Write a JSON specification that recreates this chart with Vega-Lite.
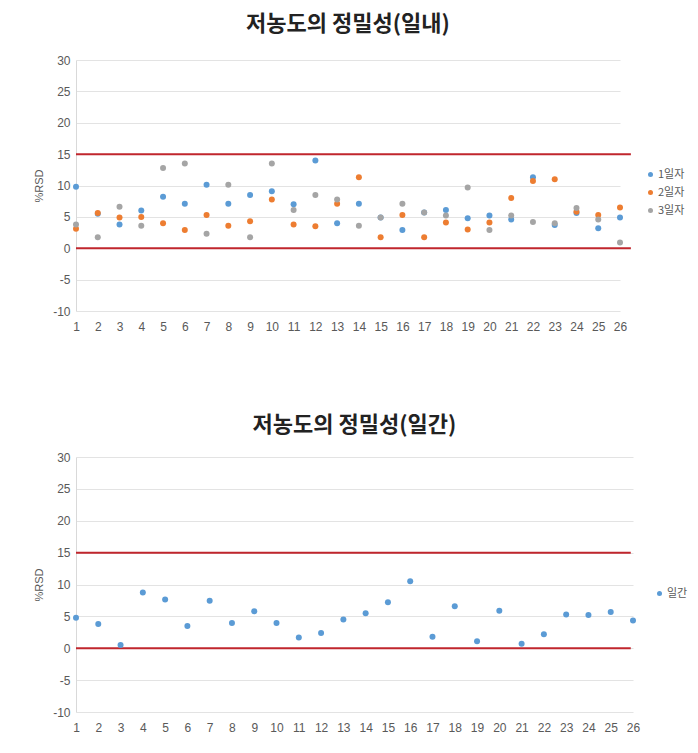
{
  "$schema": "https://vega.github.io/schema/vega-lite/v6.json",
  "background": "white",
  "padding": {"left": 33, "top": 13, "right": 5, "bottom": 5},
  "spacing": 82,
  "config": {
    "view": {"stroke": null},
    "font": "Noto Sans CJK KR",
    "title": {"fontSize": 22, "fontWeight": "bold", "color": "#222222", "font": "Noto Sans CJK KR", "offset": 18},
    "axis": {"labelFont": "Liberation Sans", "labelFontSize": 12, "labelColor": "#595959", "titleFont": "Liberation Sans", "titleFontSize": 11, "titleFontWeight": "normal", "titleColor": "#595959", "ticks": false, "domainColor": "#d9d9d9", "gridColor": "#e3e3e3", "labelOverlap": false},
    "legend": {"labelFont": "Noto Sans CJK KR", "labelFontSize": 11, "labelColor": "#595959", "symbolSize": 25, "symbolType": "circle", "rowPadding": 6, "labelOffset": 2}
  },
  "datasets": {
    "daily": [
      {"x":1,"s":"1일자","v":9.8},{"x":2,"s":"1일자","v":5.5},{"x":3,"s":"1일자","v":3.8},{"x":4,"s":"1일자","v":6.0},{"x":5,"s":"1일자","v":8.2},{"x":6,"s":"1일자","v":7.1},{"x":7,"s":"1일자","v":10.1},{"x":8,"s":"1일자","v":7.1},{"x":9,"s":"1일자","v":8.5},{"x":10,"s":"1일자","v":9.1},{"x":11,"s":"1일자","v":7.0},{"x":12,"s":"1일자","v":14.0},{"x":13,"s":"1일자","v":4.0},{"x":14,"s":"1일자","v":7.1},{"x":15,"s":"1일자","v":4.9},{"x":16,"s":"1일자","v":2.9},{"x":17,"s":"1일자","v":5.7},{"x":18,"s":"1일자","v":6.1},{"x":19,"s":"1일자","v":4.8},{"x":20,"s":"1일자","v":5.2},{"x":21,"s":"1일자","v":4.6},{"x":22,"s":"1일자","v":11.3},{"x":23,"s":"1일자","v":3.7},{"x":24,"s":"1일자","v":5.6},{"x":25,"s":"1일자","v":3.2},{"x":26,"s":"1일자","v":4.9},
      {"x":1,"s":"2일자","v":3.1},{"x":2,"s":"2일자","v":5.6},{"x":3,"s":"2일자","v":4.9},{"x":4,"s":"2일자","v":5.0},{"x":5,"s":"2일자","v":4.0},{"x":6,"s":"2일자","v":2.9},{"x":7,"s":"2일자","v":5.3},{"x":8,"s":"2일자","v":3.6},{"x":9,"s":"2일자","v":4.3},{"x":10,"s":"2일자","v":7.75},{"x":11,"s":"2일자","v":3.8},{"x":12,"s":"2일자","v":3.5},{"x":13,"s":"2일자","v":7.1},{"x":14,"s":"2일자","v":11.3},{"x":15,"s":"2일자","v":1.75},{"x":16,"s":"2일자","v":5.3},{"x":17,"s":"2일자","v":1.75},{"x":18,"s":"2일자","v":4.1},{"x":19,"s":"2일자","v":3.0},{"x":20,"s":"2일자","v":4.1},{"x":21,"s":"2일자","v":8.0},{"x":22,"s":"2일자","v":10.7},{"x":23,"s":"2일자","v":11.0},{"x":24,"s":"2일자","v":5.8},{"x":25,"s":"2일자","v":5.3},{"x":26,"s":"2일자","v":6.5},
      {"x":1,"s":"3일자","v":3.8},{"x":2,"s":"3일자","v":1.75},{"x":3,"s":"3일자","v":6.6},{"x":4,"s":"3일자","v":3.6},{"x":5,"s":"3일자","v":12.8},{"x":6,"s":"3일자","v":13.5},{"x":7,"s":"3일자","v":2.3},{"x":8,"s":"3일자","v":10.1},{"x":9,"s":"3일자","v":1.75},{"x":10,"s":"3일자","v":13.5},{"x":11,"s":"3일자","v":6.1},{"x":12,"s":"3일자","v":8.5},{"x":13,"s":"3일자","v":7.75},{"x":14,"s":"3일자","v":3.6},{"x":15,"s":"3일자","v":4.9},{"x":16,"s":"3일자","v":7.1},{"x":17,"s":"3일자","v":5.7},{"x":18,"s":"3일자","v":5.2},{"x":19,"s":"3일자","v":9.7},{"x":20,"s":"3일자","v":2.9},{"x":21,"s":"3일자","v":5.2},{"x":22,"s":"3일자","v":4.2},{"x":23,"s":"3일자","v":4.0},{"x":24,"s":"3일자","v":6.4},{"x":25,"s":"3일자","v":4.6},{"x":26,"s":"3일자","v":0.9}
    ],
    "inter": [
      {"x":1,"s":"일간","v":4.8},{"x":2,"s":"일간","v":3.8},{"x":3,"s":"일간","v":0.5},{"x":4,"s":"일간","v":8.75},{"x":5,"s":"일간","v":7.65},{"x":6,"s":"일간","v":3.5},{"x":7,"s":"일간","v":7.45},{"x":8,"s":"일간","v":3.95},{"x":9,"s":"일간","v":5.8},{"x":10,"s":"일간","v":3.95},{"x":11,"s":"일간","v":1.7},{"x":12,"s":"일간","v":2.4},{"x":13,"s":"일간","v":4.5},{"x":14,"s":"일간","v":5.5},{"x":15,"s":"일간","v":7.2},{"x":16,"s":"일간","v":10.5},{"x":17,"s":"일간","v":1.8},{"x":18,"s":"일간","v":6.6},{"x":19,"s":"일간","v":1.1},{"x":20,"s":"일간","v":5.9},{"x":21,"s":"일간","v":0.7},{"x":22,"s":"일간","v":2.2},{"x":23,"s":"일간","v":5.3},{"x":24,"s":"일간","v":5.2},{"x":25,"s":"일간","v":5.7},{"x":26,"s":"일간","v":4.35}
    ],
    "limits": [{"v": 0}, {"v": 15}]
  },
  "vconcat": [
    {
      "title": "저농도의 정밀성(일내)",
      "width": 544,
      "height": 251,
      "encoding": {
        "y": {"field": "v", "type": "quantitative", "scale": {"domain": [-10, 30], "nice": false}, "axis": {"title": "%RSD", "values": [-10,-5,0,5,10,15,20,25,30], "labelExpr": "'' + datum.value", "labelPadding": 6, "titlePadding": 8}}
      },
      "layer": [
        {
          "data": {"name": "limits"},
          "mark": {"type": "rule", "color": "#c0262d", "strokeWidth": 2, "clip": false},
          "encoding": {
            "x": {"datum": 1, "type": "quantitative", "scale": {"domain": [1, 26], "nice": false}, "axis": {"title": null, "values": [1,2,3,4,5,6,7,8,9,10,11,12,13,14,15,16,17,18,19,20,21,22,23,24,25,26], "grid": false, "labelPadding": 10, "labelFlush": false, "domain": false}},
            "x2": {"datum": 26.5}
          }
        },
        {
          "data": {"name": "daily"},
          "mark": {"type": "point", "filled": true, "opacity": 1, "size": 36, "shape": "circle"},
          "encoding": {
            "x": {"field": "x", "type": "quantitative", "scale": {"domain": [1, 26], "nice": false}, "axis": {"title": null, "values": [1,2,3,4,5,6,7,8,9,10,11,12,13,14,15,16,17,18,19,20,21,22,23,24,25,26], "grid": false, "labelPadding": 10, "labelFlush": false, "domain": false}},
            "color": {"field": "s", "type": "nominal", "scale": {"domain": ["1일자","2일자","3일자"], "range": ["#5b9bd5","#ed7d31","#a5a5a5"]}, "legend": {"title": null, "orient": "none", "legendX": 569, "legendY": 109}}
          }
        }
      ]
    },
    {
      "title": {"text": "저농도의 정밀성(일간)", "offset": 14},
      "width": 557,
      "height": 255,
      "encoding": {
        "y": {"field": "v", "type": "quantitative", "scale": {"domain": [-10, 30], "nice": false}, "axis": {"title": "%RSD", "values": [-10,-5,0,5,10,15,20,25,30], "labelExpr": "'' + datum.value", "labelPadding": 6, "titlePadding": 8}}
      },
      "layer": [
        {
          "data": {"name": "limits"},
          "mark": {"type": "rule", "color": "#c0262d", "strokeWidth": 2, "clip": false},
          "encoding": {
            "x": {"datum": 1, "type": "quantitative", "scale": {"domain": [1, 26], "nice": false}, "axis": {"title": null, "values": [1,2,3,4,5,6,7,8,9,10,11,12,13,14,15,16,17,18,19,20,21,22,23,24,25,26], "grid": false, "labelPadding": 10, "labelFlush": false, "domain": false}},
            "x2": {"datum": 25.9}
          }
        },
        {
          "data": {"name": "inter"},
          "mark": {"type": "point", "filled": true, "opacity": 1, "size": 36, "shape": "circle"},
          "encoding": {
            "x": {"field": "x", "type": "quantitative", "scale": {"domain": [1, 26], "nice": false}, "axis": {"title": null, "values": [1,2,3,4,5,6,7,8,9,10,11,12,13,14,15,16,17,18,19,20,21,22,23,24,25,26], "grid": false, "labelPadding": 10, "labelFlush": false, "domain": false}},
            "color": {"field": "s", "type": "nominal", "scale": {"domain": ["일간"], "range": ["#5b9bd5"]}, "legend": {"title": null, "orient": "none", "legendX": 578, "legendY": 131}}
          }
        }
      ]
    }
  ],
  "resolve": {"scale": {"color": "independent"}, "legend": {"color": "independent"}}
}
